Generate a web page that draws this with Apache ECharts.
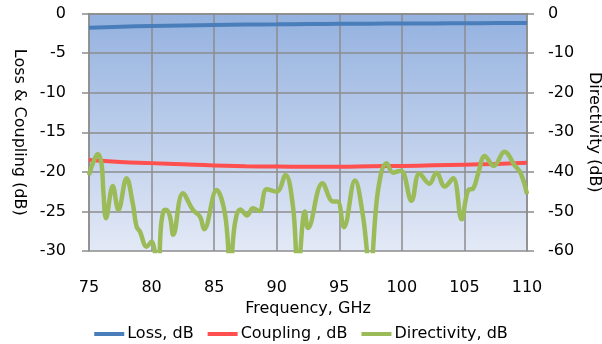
<!DOCTYPE html>
<html>
<head>
<meta charset="utf-8">
<script src="https://cdn.jsdelivr.net/npm/echarts@6/dist/echarts.min.js"></script>
<style>
  html, body { margin: 0; padding: 0; background: #ffffff; }
  #chart { width: 602px; height: 344px; }
</style>
</head>
<body>
<div id="chart"></div>
<script>
// Frequency grid for the loss and coupling traces (GHz)
const freqLC = [75, 77.5, 80, 82.5, 85, 87.5, 90, 92.5, 95, 97.5, 100, 102.5, 105, 107.5, 110];
const loss = [-1.80, -1.68, -1.58, -1.51, -1.45, -1.40, -1.37, -1.33, -1.30, -1.28, -1.27, -1.25, -1.23, -1.21, -1.20];
const coupling = [-18.5, -18.75, -18.9, -19.05, -19.2, -19.28, -19.33, -19.35, -19.35, -19.3, -19.25, -19.18, -19.1, -19.0, -18.85];

// Directivity trace (GHz, dB)
const freqDir = [75.0, 75.35, 75.7, 76.0, 76.15, 76.36, 76.9, 77.35, 78.0, 78.5, 78.8, 79.07, 79.6, 80.0,
  80.5, 80.75, 80.95, 81.15, 81.47, 81.73, 82.5, 83.3, 83.87, 84.2, 85.2, 85.86, 86.3, 86.66,
  87.1, 87.64, 88.1, 88.6, 89.2, 90.0, 90.7, 91.3, 91.7, 92.25, 92.5, 93.66, 94.5, 94.86,
  95.37, 96.25, 96.9, 97.45, 98.1, 98.78, 99.3, 99.92, 100.77, 101.4, 102.2, 102.77, 103.43,
  104.1, 104.77, 105.3, 105.7, 106.1, 106.63, 107.35, 108.2, 109.0, 109.5, 110.0];
const directivity = [-40.8, -37.5, -35.5, -38.0, -45.0, -51.7, -43.6, -49.6, -41.6, -48.0, -53.8, -55.1, -58.9, -57.6,
  -66.0, -53.8, -50.0, -49.6, -51.3, -55.9, -45.4, -49.6, -51.3, -54.5, -44.6, -50.5, -64.0, -53.0,
  -49.5, -51.0, -49.2, -49.9, -44.4, -45.0, -40.8, -48.8, -65.0, -50.0, -54.2, -42.9, -47.5, -47.5,
  -54.0, -42.2, -51.3, -65.0, -44.6, -37.8, -40.2, -39.7, -47.3, -40.4, -43.0, -40.2, -43.7,
  -41.6, -52.0, -44.6, -44.2, -40.4, -36.0, -38.5, -34.9, -38.3, -40.4, -45.6];

const leftTicks = { min: -30, max: 0, interval: 5 };
const rightTicks = { min: -60, max: 0, interval: 10 };

const FONT = 'DejaVu Sans';
const TXT = '#000000';
const GRID_GRAY = '#8c8c8c';

const pairs = (xs, ys) => xs.map((x, i) => [x, ys[i]]);

const chart = echarts.init(document.getElementById('chart'), null, { renderer: 'canvas' });

chart.setOption({
  animation: false,
  textStyle: { fontFamily: FONT },
  grid: {
    left: 89, right: 75, top: 13.5, bottom: 93,
    containLabel: false,
    outerBoundsMode: 'none',
    show: true,
    borderWidth: 0,
    backgroundColor: new echarts.graphic.LinearGradient(0, 0, 0, 1, [
      { offset: 0, color: '#93b1df' },
      { offset: 1, color: '#e3e9f6' }
    ])
  },
  legend: {
    top: 321,
    left: 'center',
    icon: 'rect',
    itemWidth: 30,
    itemHeight: 4,
    itemGap: 14,
    textStyle: { fontFamily: FONT, fontSize: 16, color: TXT, padding: [0, 0, 0, -2] },
    data: ['Loss, dB', 'Coupling , dB', 'Directivity, dB']
  },
  xAxis: {
    type: 'value',
    min: 75, max: 110, interval: 5,
    name: 'Frequency, GHz',
    nameLocation: 'middle',
    nameGap: 46,
    nameTextStyle: { fontFamily: FONT, fontSize: 16, color: TXT },
    axisLine: { show: true, lineStyle: { color: GRID_GRAY, width: 1.5 } },
    axisTick: { show: false },
    axisLabel: { fontFamily: FONT, fontSize: 16, color: TXT, margin: 29 },
    splitLine: { show: true, lineStyle: { color: GRID_GRAY, width: 1.5 } }
  },
  yAxis: [
    {
      type: 'value',
      min: leftTicks.min, max: leftTicks.max, interval: leftTicks.interval,
      name: 'Loss & Coupling (dB)',
      nameLocation: 'middle',
      nameRotate: -90,
      nameGap: 62,
      nameTextStyle: { fontFamily: FONT, fontSize: 16, color: TXT },
      axisLine: { show: true, lineStyle: { color: GRID_GRAY, width: 1.5 } },
      axisTick: { show: true, length: 7, lineStyle: { color: GRID_GRAY, width: 1.5 } },
      axisLabel: { fontFamily: FONT, fontSize: 16, color: TXT, margin: 23 },
      splitLine: { show: true, lineStyle: { color: GRID_GRAY, width: 1.5 } }
    },
    {
      type: 'value',
      position: 'right',
      min: rightTicks.min, max: rightTicks.max, interval: rightTicks.interval,
      name: 'Directivity (dB)',
      nameLocation: 'middle',
      nameRotate: -90,
      nameGap: 59,
      nameTextStyle: { fontFamily: FONT, fontSize: 16, color: TXT },
      axisLine: { show: true, lineStyle: { color: GRID_GRAY, width: 1.5 } },
      axisTick: { show: true, length: 7, lineStyle: { color: GRID_GRAY, width: 1.5 } },
      axisLabel: { fontFamily: FONT, fontSize: 16, color: TXT, margin: 21 },
      splitLine: { show: false }
    }
  ],
  series: [
    {
      name: 'Loss, dB',
      type: 'line',
      yAxisIndex: 0,
      data: pairs(freqLC, loss),
      smooth: true,
      symbol: 'none',
      lineStyle: { color: '#4a7ebb', width: 4 },
      itemStyle: { color: '#4a7ebb' },
      z: 3
    },
    {
      name: 'Coupling , dB',
      type: 'line',
      yAxisIndex: 0,
      data: pairs(freqLC, coupling),
      smooth: true,
      symbol: 'none',
      lineStyle: { color: '#ff4f4f', width: 4 },
      itemStyle: { color: '#ff4f4f' },
      z: 2
    },
    {
      name: 'Directivity, dB',
      type: 'line',
      yAxisIndex: 1,
      data: pairs(freqDir, directivity),
      smooth: 0.4,
      clip: true,
      symbol: 'none',
      lineStyle: { color: '#9bbb59', width: 4.5 },
      itemStyle: { color: '#9bbb59' },
      z: 4
    }
  ]
});
</script>
</body>
</html>
